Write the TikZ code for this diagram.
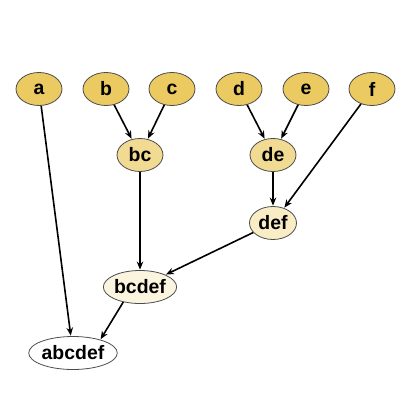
\documentclass[tikz,border=0pt]{standalone}
\usepackage{fontspec}
\setmainfont{Liberation Sans}
\usetikzlibrary{shapes.geometric,arrows.meta}
\definecolor{gold}{HTML}{EBCA62}
\definecolor{midgold}{HTML}{F1DA92}
\definecolor{lightgold}{HTML}{F8EDC4}
\definecolor{palegold}{HTML}{FBF5E0}
\begin{document}
\begin{tikzpicture}[x=1bp,y=-1bp,
  nd/.style={ellipse,draw=black!70,line width=0.8bp,inner sep=0pt,minimum width=46bp,minimum height=33bp,
    font=\fontsize{19.5}{19.5}\selectfont\bfseries},
  conn/.style={line width=1.6bp,-{Stealth[length=8bp,width=6.5bp]},shorten >=0.5bp}]
\useasboundingbox (0,0) rectangle (411,411);
\node[nd,fill=gold] (a) at (39,89) {a};
\node[nd,fill=gold] (b) at (106,89) {b};
\node[nd,fill=gold] (c) at (172,89) {c};
\node[nd,fill=gold] (d) at (239,89) {d};
\node[nd,fill=gold] (e) at (306,89) {e};
\node[nd,fill=gold] (f) at (372,89) {f};
\node[nd,fill=midgold] (bc) at (140,155) {bc};
\node[nd,fill=midgold] (de) at (273,155) {de};
\node[nd,fill=lightgold,minimum width=47bp] (def) at (273,223) {def};
\node[nd,fill=palegold,minimum width=72bp] (bcdef) at (140,287) {bcdef};
\node[nd,fill=white,minimum width=88bp] (abcdef) at (73,353) {abcdef};
\draw[conn] (b) -- (bc);
\draw[conn] (c) -- (bc);
\draw[conn] (d) -- (de);
\draw[conn] (e) -- (de);
\draw[conn] (de) -- (def);
\draw[conn] (f) -- (def);
\draw[conn] (bc) -- (bcdef);
\draw[conn] (def) -- (bcdef);
\draw[conn] (a) -- (abcdef);
\draw[conn] (bcdef.222) -- (abcdef.26);
\end{tikzpicture}
\end{document}
